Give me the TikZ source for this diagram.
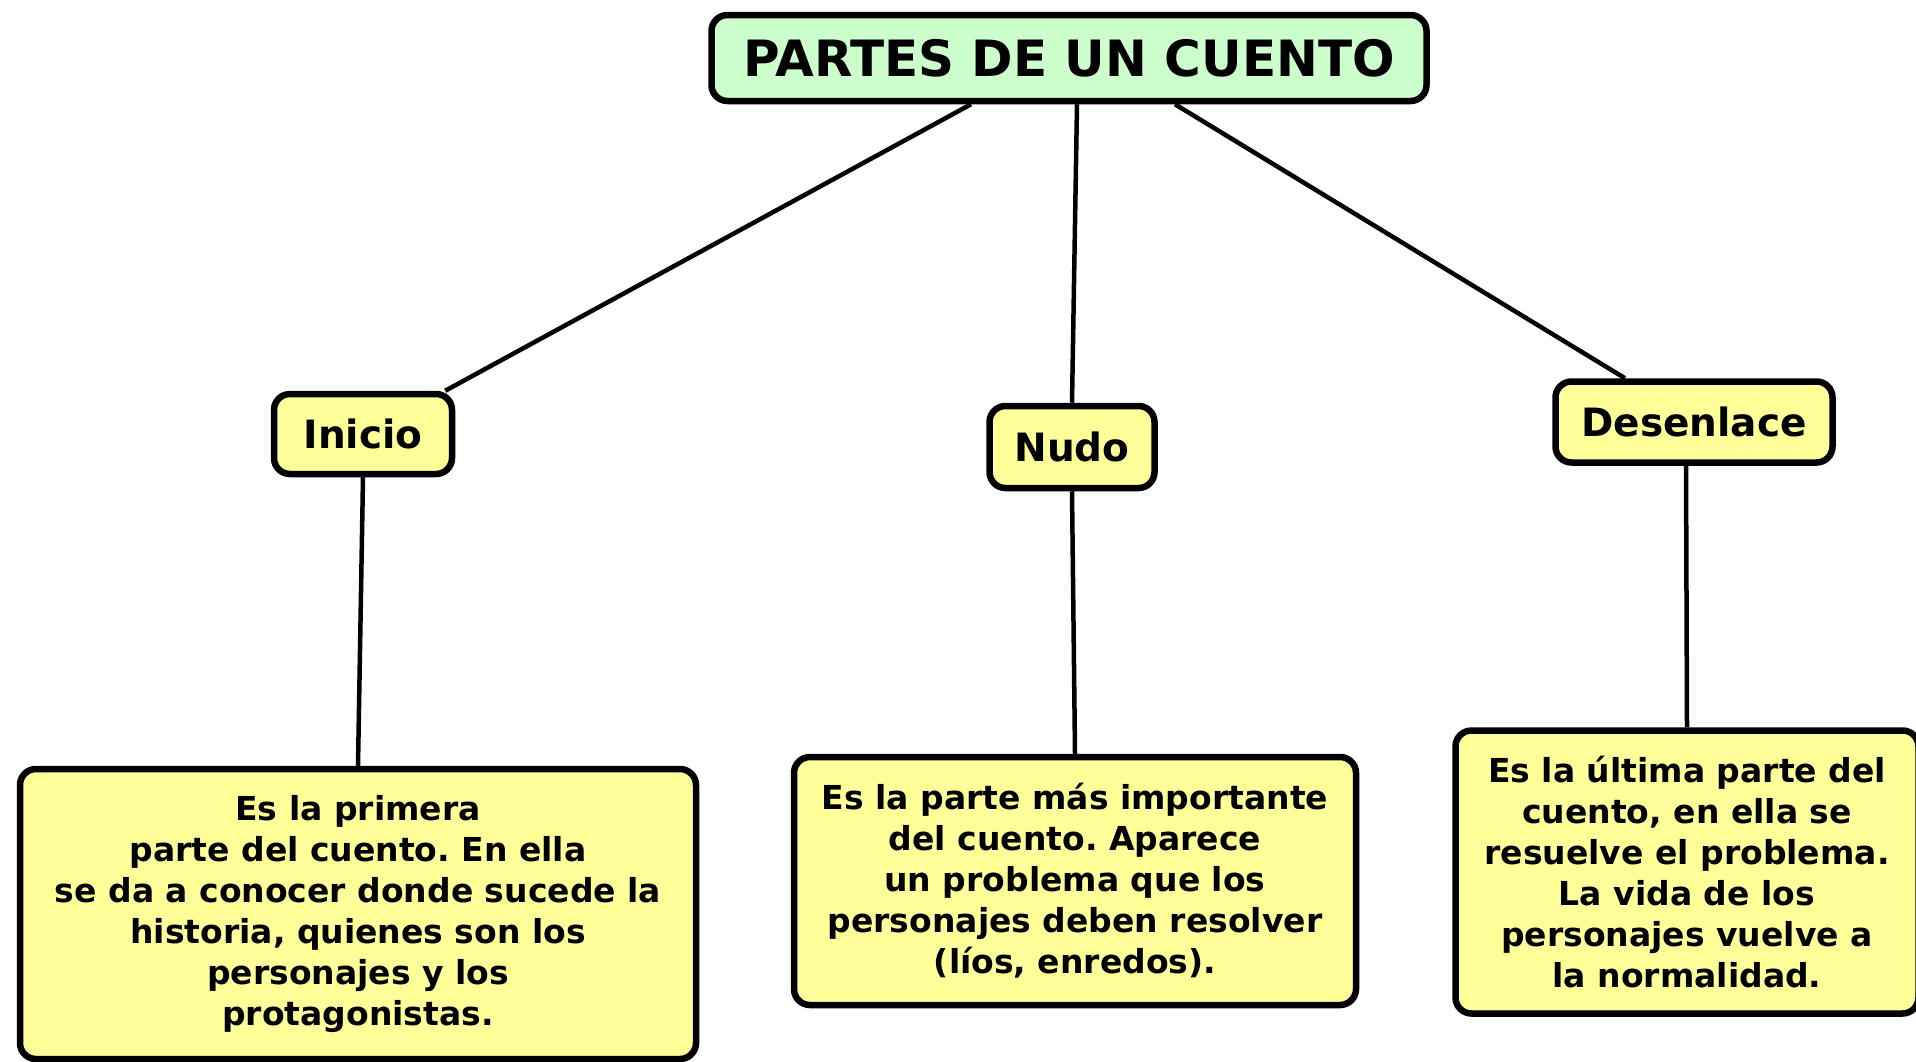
\documentclass[tikz,border=0pt]{standalone}
\usepackage{fontspec}
\setmainfont{DejaVu Sans}
\frenchspacing
\usetikzlibrary{shapes,arrows}
\definecolor{titlegreen}{RGB}{204,255,204}
\definecolor{partyellow}{RGB}{255,255,153}
\tikzset{
  cuentobox/.style={draw=black, line width=6.5pt, rounded corners=16pt, inner sep=0pt, align=center},
  titlebox/.style={cuentobox, fill=titlegreen, font=\fontsize{50}{60}\selectfont\bfseries},
  partbox/.style={cuentobox, fill=partyellow, font=\fontsize{39}{47}\selectfont\bfseries},
  textbox/.style={cuentobox, fill=partyellow, font=\fontsize{33}{41}\selectfont\bfseries},
  cuentoline/.style={draw=black, line width=4.5pt}
}
\newcommand{\cuentonode}[4] {\node at (#1) (#2) [#3] {#4};}
\newcommand{\cuentolink}[2] {\draw [cuentoline] (#1) -- (#2);}

\begin{document}
\begin{tikzpicture}[x=1pt,y=-1pt]
\useasboundingbox (0,0) rectangle (1916,1061);
\cuentonode {1069,58} {titulo} {titlebox, minimum width=715pt, minimum height=86pt} {PARTES DE UN CUENTO};
\cuentonode {363,434} {inicio} {partbox, minimum width=178pt, minimum height=80pt} {Inicio};
\cuentonode {1072,447} {nudo} {partbox, minimum width=165pt, minimum height=82pt} {Nudo};
\cuentonode {1694,422} {desenlace} {partbox, minimum width=277pt, minimum height=81pt} {Desenlace};

\cuentonode {358,914} {textoinicio} {textbox, minimum width=676pt, minimum height=290pt}
  {Es la primera\\ parte del cuento. En ella\\ se da a conocer donde sucede la\\ historia, quienes son los\\ personajes y los\\ protagonistas.};
\cuentonode {1075,881} {textonudo} {textbox, minimum width=562pt, minimum height=248pt}
  {Es la parte más importante\\ del cuento. Aparece\\ un problema que los\\ personajes deben resolver\\ (líos, enredos).};
\cuentonode {1687,872} {textodesenlace} {textbox, minimum width=463pt, minimum height=283pt}
  {Es la última parte del\\ cuento, en ella se\\ resuelve el problema.\\ La vida de los\\ personajes vuelve a\\ la normalidad.};

\cuentolink{[xshift=-98pt]titulo.south}{[xshift=-10pt]inicio.north east};
\cuentolink{[xshift=8pt]titulo.south}{nudo.north};
\cuentolink{[xshift=106pt]titulo.south}{[xshift=-69pt]desenlace.north};

\cuentolink{inicio.south}{textoinicio.north};
\cuentolink{nudo.south}{textonudo.north};
\cuentolink{[xshift=-8pt]desenlace.south}{[xshift=0pt]textodesenlace.north};
\end{tikzpicture}
\end{document}
